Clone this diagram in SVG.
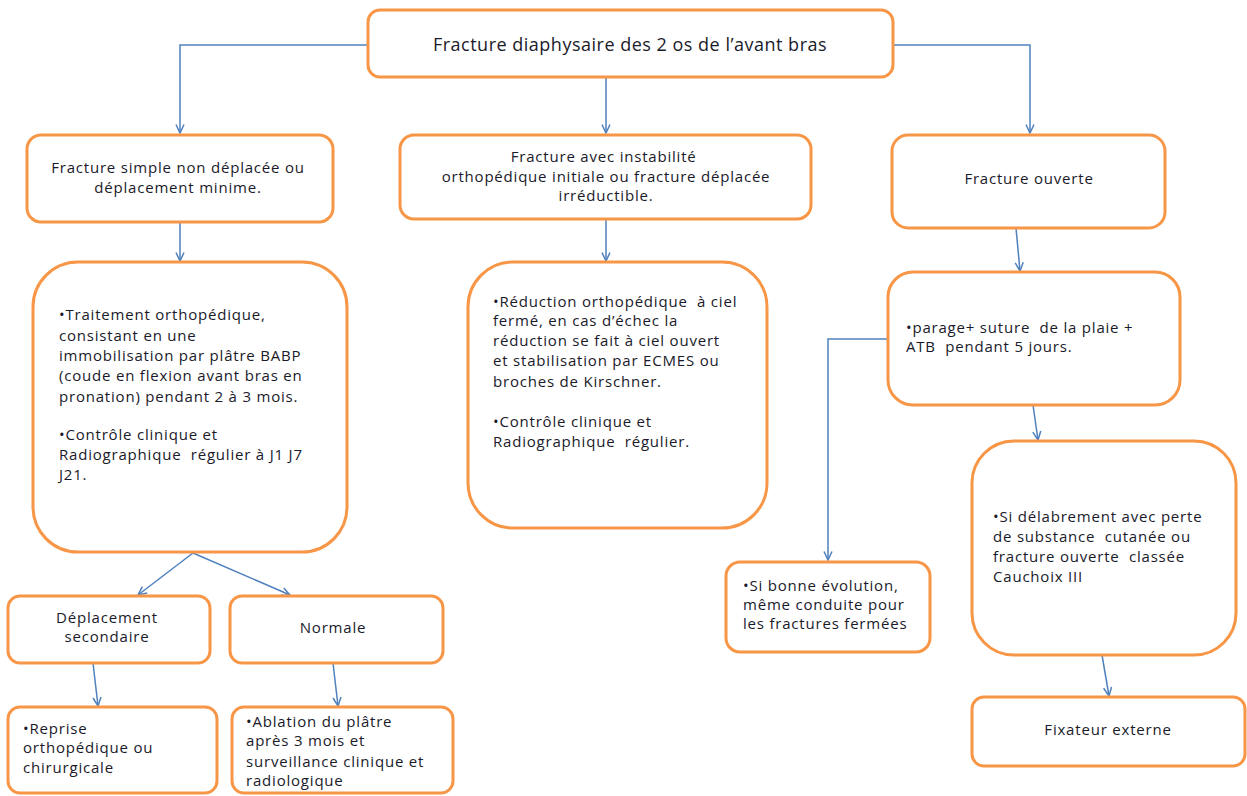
<svg xmlns="http://www.w3.org/2000/svg" width="1247" height="796" viewBox="0 0 1247 796">
  <style>
    .box { fill: #ffffff; stroke: #F79646; stroke-width: 3; }
    .lnk { fill: none; stroke: #4F81BD; stroke-width: 1.5; marker-end: url(#arr); }
    text { font-family: "Open Sans", "Liberation Sans", sans-serif; font-size: 15px; letter-spacing: 0.8px; fill: #1a1a2a; white-space: pre; }
    .c { text-anchor: middle; }
    .big { font-size: 18px; letter-spacing: 0.5px; }
  </style>
  <defs>
    <marker id="arr" viewBox="0 0 10 10" refX="9.5" refY="5" markerWidth="10" markerHeight="10" markerUnits="userSpaceOnUse" orient="auto">
      <path d="M1,1 L9.5,5 L1,9" fill="none" stroke="#4F81BD" stroke-width="1.5"/>
    </marker>
  </defs>

  <!-- connectors -->
  <g id="connectors">
    <path class="lnk" d="M368,45 H180 V133"/>
    <path class="lnk" d="M606,77 V133"/>
    <path class="lnk" d="M893,45 H1030 V133"/>
    <path class="lnk" d="M180,222 V261"/>
    <path class="lnk" d="M606,219 V261"/>
    <path class="lnk" d="M1016,228 L1020,271"/>
    <path class="lnk" d="M887,339 H828 V560"/>
    <path class="lnk" d="M1033,405 L1038,440"/>
    <path class="lnk" d="M1102,655 L1109,696"/>
    <path class="lnk" d="M193,553 L138,595"/>
    <path class="lnk" d="M193,553 L290,595"/>
    <path class="lnk" d="M93,663 L98,706"/>
    <path class="lnk" d="M333,663 L338,706"/>
  </g>

  <!-- root -->
  <g id="root">
    <rect class="box" x="368" y="10" width="525" height="67" rx="12"/>
    <text class="c big" x="630" y="51">Fracture diaphysaire des 2 os de l’avant bras</text>
  </g>

  <!-- first level -->
  <g id="simple">
    <rect class="box" x="27" y="135" width="306" height="87" rx="14"/>
    <text class="c" x="178" y="173">Fracture simple non déplacée ou</text>
    <text class="c" x="178" y="193">déplacement minime.</text>
  </g>
  <g id="instable">
    <rect class="box" x="400" y="135" width="411" height="84" rx="14"/>
    <text class="c" x="606" y="162">Fracture avec instabilité </text>
    <text class="c" x="606" y="182">orthopédique initiale ou fracture déplacée</text>
    <text class="c" x="606" y="201">irréductible.</text>
  </g>
  <g id="ouverte">
    <rect class="box" x="892" y="135" width="273" height="93" rx="16"/>
    <text class="c" x="1029" y="184">Fracture ouverte</text>
  </g>

  <!-- treatments -->
  <g id="trait-ortho">
    <rect class="box" x="33" y="262" width="314" height="290" rx="45"/>
    <text x="59" y="320">•Traitement orthopédique,</text>
    <text x="59" y="341">consistant en une</text>
    <text x="59" y="361">immobilisation par plâtre BABP</text>
    <text x="59" y="381">(coude en flexion avant bras en</text>
    <text x="59" y="402">pronation) pendant 2 à 3 mois.</text>
    <text x="59" y="440">•Contrôle clinique et</text>
    <text x="59" y="460">Radiographique  régulier à J1 J7</text>
    <text x="59" y="480">J21.</text>
  </g>
  <g id="reduction">
    <rect class="box" x="468" y="262" width="299" height="266" rx="45"/>
    <text x="493" y="307">•Réduction orthopédique  à ciel</text>
    <text x="493" y="326">fermé, en cas d’échec la</text>
    <text x="493" y="346">réduction se fait à ciel ouvert</text>
    <text x="493" y="366">et stabilisation par ECMES ou</text>
    <text x="493" y="387">broches de Kirschner.</text>
    <text x="493" y="427">•Contrôle clinique et</text>
    <text x="493" y="447">Radiographique  régulier.</text>
  </g>
  <g id="parage">
    <rect class="box" x="888" y="272" width="292" height="133" rx="25"/>
    <text x="906" y="333">•parage+ suture  de la plaie +</text>
    <text x="906" y="352">ATB  pendant 5 jours.</text>
  </g>
  <g id="delabrement">
    <rect class="box" x="972" y="441" width="264" height="214" rx="42"/>
    <text x="993" y="522">•Si délabrement avec perte</text>
    <text x="993" y="542">de substance  cutanée ou</text>
    <text x="993" y="562">fracture ouverte  classée</text>
    <text x="993" y="582">Cauchoix III</text>
  </g>
  <g id="evolution">
    <rect class="box" x="726" y="562" width="204" height="90" rx="14"/>
    <text x="743" y="591">•Si bonne évolution,</text>
    <text x="743" y="610">même conduite pour</text>
    <text x="743" y="629">les fractures fermées</text>
  </g>
  <g id="fixateur">
    <rect class="box" x="972" y="697" width="273" height="69" rx="12"/>
    <text class="c" x="1108" y="735">Fixateur externe</text>
  </g>

  <!-- follow-up -->
  <g id="deplacement">
    <rect class="box" x="8" y="596" width="202" height="67" rx="12"/>
    <text class="c" x="107" y="623">Déplacement</text>
    <text class="c" x="107" y="642">secondaire</text>
  </g>
  <g id="normale">
    <rect class="box" x="230" y="596" width="213" height="67" rx="12"/>
    <text class="c" x="333" y="633">Normale</text>
  </g>
  <g id="reprise">
    <rect class="box" x="8" y="707" width="209" height="86" rx="12"/>
    <text x="23" y="734">•Reprise</text>
    <text x="23" y="753">orthopédique ou</text>
    <text x="23" y="773">chirurgicale</text>
  </g>
  <g id="ablation">
    <rect class="box" x="232" y="707" width="221" height="86" rx="12"/>
    <text x="246" y="727">•Ablation du plâtre</text>
    <text x="246" y="746">après 3 mois et</text>
    <text x="246" y="767">surveillance clinique et</text>
    <text x="246" y="786">radiologique</text>
  </g>
</svg>
